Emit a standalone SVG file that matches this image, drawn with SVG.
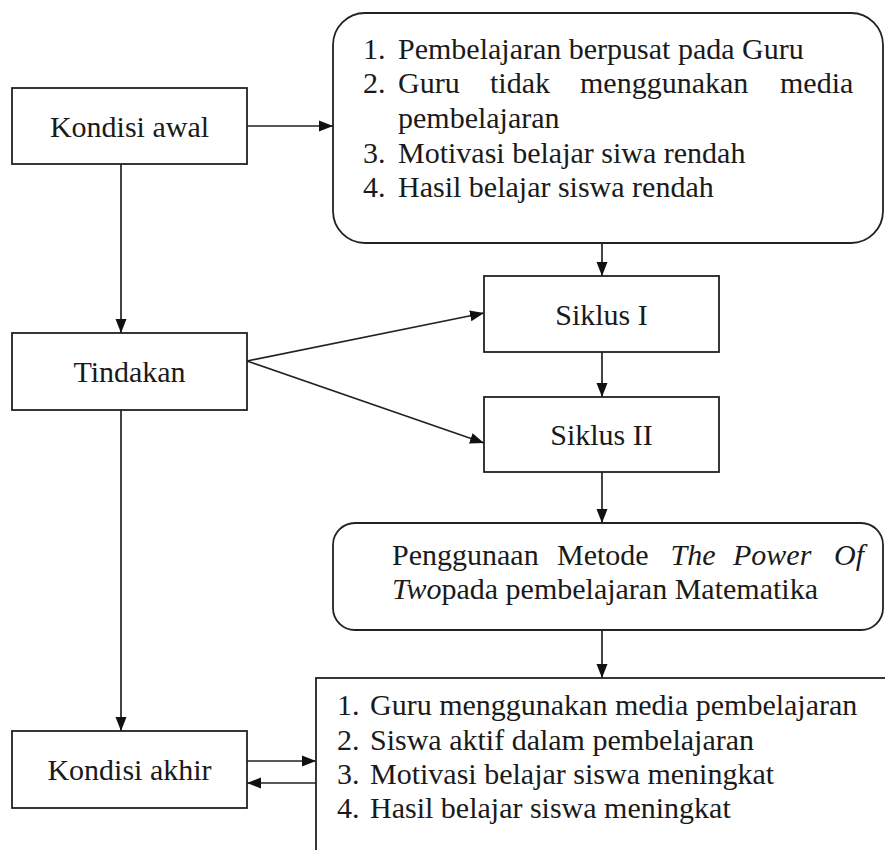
<svg xmlns="http://www.w3.org/2000/svg" width="885" height="850" viewBox="0 0 885 850">
  <defs>
    <marker id="arrow" markerUnits="userSpaceOnUse" markerWidth="15" markerHeight="12" refX="14" refY="6" orient="auto">
      <path d="M0,0.5 L14,6 L0,11.5 z" fill="#111"/>
    </marker>
    <style>
      .box { fill: #fff; stroke: #222; stroke-width: 1.8; }
      .con { fill: none; stroke: #222; stroke-width: 1.7; marker-end: url(#arrow); }
      text { font-family: "Liberation Serif", "Times New Roman", serif; font-size: 30px; fill: #1a1a1a; }
      .c { text-anchor: middle; }
      .it { font-style: italic; }
    </style>
  </defs>
  <rect width="885" height="850" fill="#fff"/>

  <g id="connectors">
    <line class="con" x1="247" y1="126" x2="333" y2="126"/>
    <line class="con" x1="121" y1="164" x2="121" y2="333"/>
    <line class="con" x1="121" y1="410" x2="121" y2="731"/>
    <line class="con" x1="602" y1="243" x2="602" y2="276"/>
    <line class="con" x1="247" y1="361" x2="484" y2="313"/>
    <line class="con" x1="247" y1="361" x2="484" y2="443"/>
    <line class="con" x1="602" y1="352" x2="602" y2="397"/>
    <line class="con" x1="602" y1="472" x2="602" y2="523"/>
    <line class="con" x1="602" y1="630" x2="602" y2="678"/>
    <line class="con" x1="247" y1="761" x2="316" y2="761"/>
    <line class="con" x1="316" y1="783" x2="247" y2="783"/>
  </g>

  <g id="kondisi-awal">
    <rect class="box" x="12" y="88" width="235" height="76"/>
    <text class="c" x="129.5" y="136.5">Kondisi awal</text>
  </g>

  <g id="kondisi-awal-list">
    <rect class="box" x="333" y="13" width="550" height="230" rx="32" ry="32"/>
    <text x="363" y="59">1.</text>
    <text x="398" y="59">Pembelajaran berpusat pada Guru</text>
    <text x="363" y="93">2.</text>
    <text x="398" y="93">Guru</text>
    <text x="490" y="93">tidak</text>
    <text x="580" y="93">menggunakan</text>
    <text x="780" y="93">media</text>
    <text x="398" y="128">pembelajaran</text>
    <text x="363" y="163">3.</text>
    <text x="398" y="163">Motivasi belajar siwa rendah</text>
    <text x="363" y="197">4.</text>
    <text x="398" y="197">Hasil belajar siswa rendah</text>
  </g>

  <g id="tindakan">
    <rect class="box" x="12" y="333" width="235" height="77"/>
    <text class="c" x="129.5" y="381.5">Tindakan</text>
  </g>

  <g id="siklus-1">
    <rect class="box" x="484" y="276" width="235" height="76"/>
    <text class="c" x="601.5" y="324.5">Siklus I</text>
  </g>

  <g id="siklus-2">
    <rect class="box" x="484" y="397" width="235" height="75"/>
    <text class="c" x="601.5" y="445">Siklus II</text>
  </g>

  <g id="penggunaan">
    <rect class="box" x="333" y="523" width="550" height="107" rx="22" ry="22"/>
    <text x="392" y="565">Penggunaan</text>
    <text x="557" y="565">Metode</text>
    <text class="it" x="670.5" y="565">The</text>
    <text class="it" x="733" y="565">Power</text>
    <text class="it" x="834" y="565">Of</text>
    <text x="392" y="599"><tspan class="it">Two</tspan>pada pembelajaran Matematika</text>
  </g>

  <g id="kondisi-akhir">
    <rect class="box" x="12" y="731" width="235" height="77"/>
    <text class="c" x="129.5" y="780">Kondisi akhir</text>
  </g>

  <g id="kondisi-akhir-list">
    <rect class="box" x="316" y="678" width="620" height="220"/>
    <text x="337" y="715">1.</text>
    <text x="370" y="715">Guru menggunakan media pembelajaran</text>
    <text x="337" y="750">2.</text>
    <text x="370" y="750">Siswa aktif dalam pembelajaran</text>
    <text x="337" y="784">3.</text>
    <text x="370" y="784">Motivasi belajar siswa meningkat</text>
    <text x="337" y="818">4.</text>
    <text x="370" y="818">Hasil belajar siswa meningkat</text>
  </g>
</svg>
